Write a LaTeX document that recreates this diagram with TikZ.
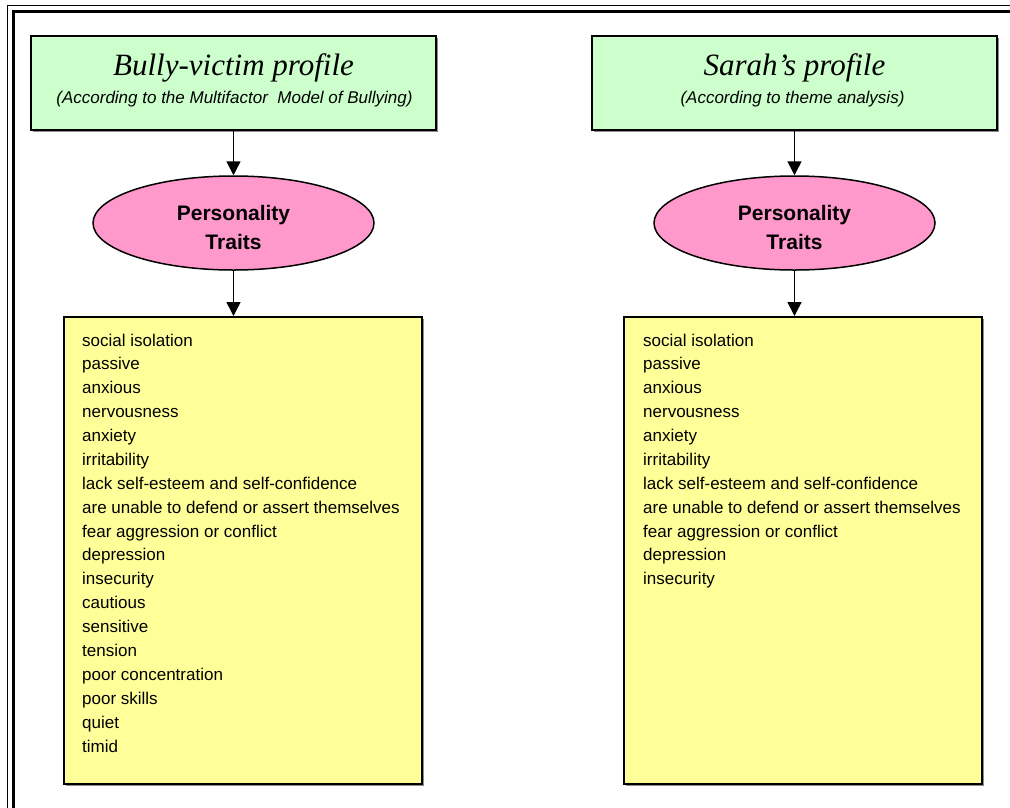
\documentclass[tikz,border=0pt]{standalone}
\usepackage{fontspec}
\setmainfont{Liberation Serif}
\setsansfont{Liberation Sans}
\usetikzlibrary{shapes.geometric,arrows.meta,shadows}

\definecolor{headgreen}{HTML}{CCFFCC}
\definecolor{traitpink}{HTML}{FF99CC}
\definecolor{listyellow}{HTML}{FFFF99}

\tikzset{
  boxshadow/.style={drop shadow={shadow xshift=2pt,shadow yshift=-2pt,fill=black!45,opacity=1}},
  headbox/.style={draw=black,line width=1.5pt,fill=headgreen,minimum width=405pt,minimum height=94pt,inner sep=0pt,boxshadow},
  traitoval/.style={ellipse,draw=black,line width=1.5pt,fill=traitpink,minimum width=281pt,minimum height=94pt,inner sep=0pt},
  traittext/.style={font=\sffamily\bfseries\fontsize{21}{29}\selectfont,align=center,anchor=base,inner sep=0pt},
  listbox/.style={draw=black,line width=1.5pt,fill=listyellow,minimum width=358pt,minimum height=467pt,inner sep=0pt,boxshadow},
  title/.style={font=\itshape\fontsize{31}{33}\selectfont,anchor=base,inner sep=0pt},
  subtitle/.style={font=\sffamily\itshape\fontsize{17}{19}\selectfont,anchor=base,inner sep=0pt},
  items/.style={font=\sffamily\fontsize{17}{23.88}\selectfont,align=left,anchor=base west,inner sep=0pt},
  link/.style={line width=1.5pt,-{Triangle[length=14pt,width=14pt]}},
  frameout/.style={line width=1.5pt},
  framein/.style={line width=3pt}
}

\begin{document}
\begin{tikzpicture}[x=1pt,y=-1pt]
\useasboundingbox (0,0) rectangle (1010,807);
\fill[white] (0,0) rectangle (1010,807);
\clip (0,0) rectangle (1010,807);

% double page frame, running past the right and bottom edges
\draw[frameout] (7.5,820) -- (7.5,5.5) -- (1030,5.5);
\draw[framein] (13.5,820) -- (13.5,11) -- (1030,11);

% left column: model profile
\node[headbox] (lhead) at (233.5,83) {};
\node[title] (ltitle) at (233.5,75) {Bully-victim profile};
\node[subtitle] (lsub) at (234.5,103) {(According to the Multifactor\ \ Model of Bullying)};
\node[traitoval] (ltraits) at (233.5,223) {};
\node[traittext] (ltraitlbl) at (233.5,249) {Personality\\Traits};
\node[listbox,anchor=north west] (llist) at (63,316) {};
% the node's base is the baseline of its last line
\node[items] (litems) at (82,752) {social isolation\\passive\\anxious\\nervousness\\anxiety\\irritability\\lack self-esteem and self-confidence\\are unable to defend or assert themselves\\fear aggression or conflict\\depression\\insecurity\\cautious\\sensitive\\tension\\poor concentration\\poor skills\\quiet\\timid};

% right column: case profile
\node[headbox] (rhead) at (794.5,83) {};
\node[title] (rtitle) at (794.5,75) {Sarah’s profile};
\node[subtitle] (rsub) at (792.5,103) {(According to theme analysis)};
\node[traitoval] (rtraits) at (794.5,223) {};
\node[traittext] (rtraitlbl) at (794.5,249) {Personality\\Traits};
\node[listbox,anchor=north west] (rlist) at (623,316) {};
\node[items] (ritems) at (643,584.8) {social isolation\\passive\\anxious\\nervousness\\anxiety\\irritability\\lack self-esteem and self-confidence\\are unable to defend or assert themselves\\fear aggression or conflict\\depression\\insecurity};

% connectors
\draw[link] (lhead) -- (ltraits);
\draw[link] (ltraits.south) -- (ltraits.south |- llist.north);
\draw[link] (rhead) -- (rtraits);
\draw[link] (rtraits.south) -- (rtraits.south |- rlist.north);
\end{tikzpicture}
\end{document}
